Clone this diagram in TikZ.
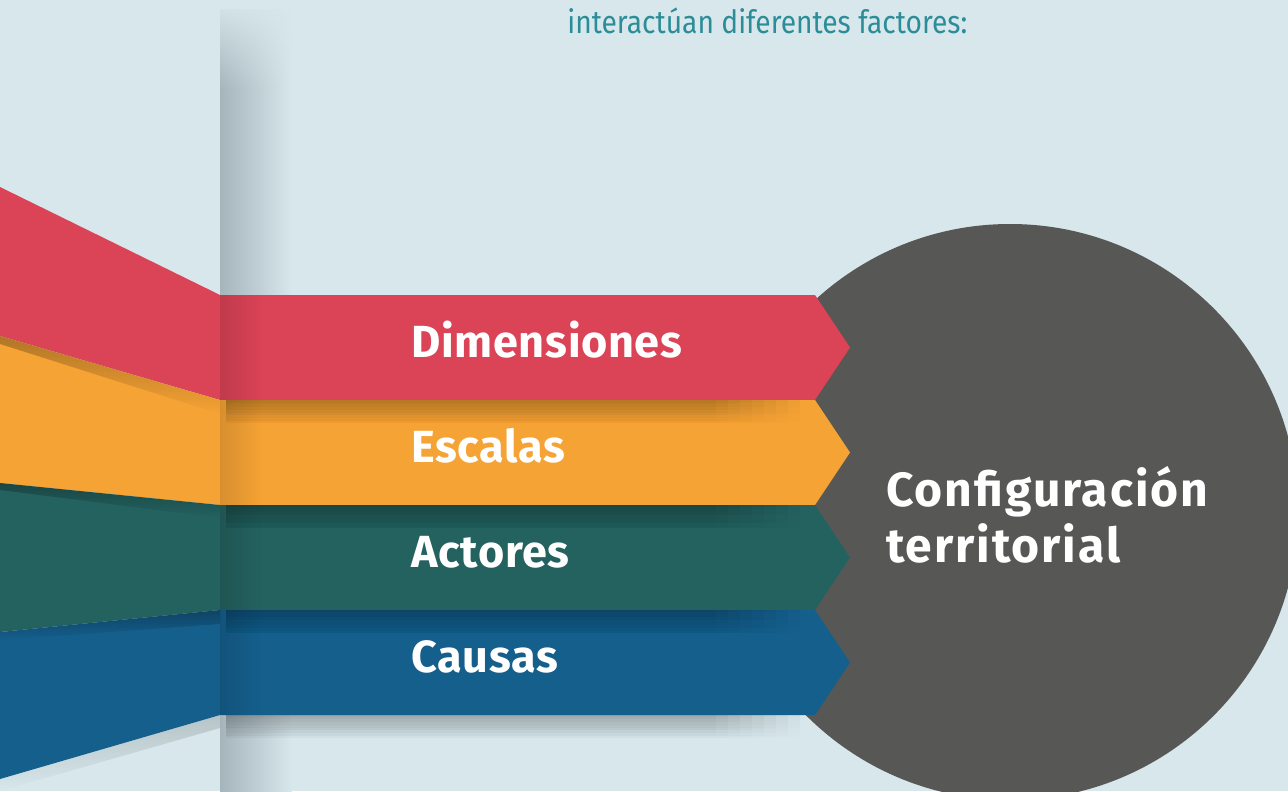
\documentclass[tikz,border=0pt]{standalone}
\usepackage{fontspec}
\setmainfont{Fira Sans}
\usepackage{tikz}
\usetikzlibrary{positioning,fadings,calc}
\definecolor{terr@bg}{RGB}{215,231,235}
\definecolor{terr@shelf}{RGB}{166,180,188}
\definecolor{terr@red}{RGB}{219,67,87}
\definecolor{terr@orange}{RGB}{246,163,53}
\definecolor{terr@teal}{RGB}{36,98,96}
\definecolor{terr@blue}{RGB}{21,95,141}
\definecolor{terr@dark}{RGB}{87,87,86}
\definecolor{terr@title}{RGB}{43,141,151}
\tikzset{
  terr/.style={x=0.5pt, y=-0.5pt},
  blabel/.style={                  % label on a ribbon
    text=white, inner sep=0pt, anchor=base west,
    font=\fontsize{22.5}{27}\selectfont\bfseries\addfontfeature{LetterSpace=1.5}
  },
  ctext/.style={                   % text in the big circle
    text=white, inner sep=0pt, anchor=west, align=left,
    font=\fontsize{24}{28}\selectfont\bfseries\addfontfeature{LetterSpace=4}
  },
  introtxt/.style={
    text=terr@title, inner sep=0pt, anchor=base west,
    font=\fontsize{16}{18}\selectfont
  },
  bigdot/.style={circle, fill=terr@dark, inner sep=0pt, minimum size=288pt},
  dropshadow/.style={fill=black, path fading=south, fill opacity=0.28},
  softshadow/.style={fill=black, path fading=south, fill opacity=0.035}
}

\begin{document}
\begin{tikzpicture}[terr]
\useasboundingbox (0,0) rectangle (1288,791);
\clip (0,0) rectangle (1288,791);
\fill[terr@bg] (0,0) rectangle (1288,791);

% Fold of the page
\shade[left color=terr@shelf, right color=terr@bg] (220,10) rectangle (292,791);
\fill[terr@bg, path fading=south] (214,0) rectangle (296,90);

% Intro text
\node[introtxt] (intro) at (567,34) {\scalebox{0.88}[1]{interactúan diferentes factores:}};

% Big circle
\node[bigdot] (terrcirc) at (1010,512) {};

% Ribbons
\foreach \col/\lt/\lb/\k in {terr@red/187/336/0, terr@orange/336/483/1,
                             terr@teal/483/632/2, terr@blue/632/779/3} {
  \pgfmathsetmacro\yt{295+105*\k}
  \pgfmathsetmacro\yb{400+105*\k}
  \pgfmathsetmacro\ym{347.5+105*\k}
  \fill[\col] (0,\lt) -- (220,\yt) -- (220,\yb) -- (0,\lb) -- cycle;
  \fill[\col] (220,\yt) -- (815,\yt) -- (850,\ym) -- (815,\yb) -- (220,\yb) -- cycle;
}

% Shadows under the ribbons (stacked, so they thin out to the right)
\foreach \y in {400,505,610,715} {
  \foreach \i in {0,...,7} {
    \fill[softshadow] (226,\y) rectangle (800-12*\i,\y+24);
  }
}
\fill[dropshadow] (0,336) -- (220,400) -- (220,414) -- (0,344) -- cycle;
\fill[dropshadow] (0,483) -- (220,505) -- (220,518) -- (0,490) -- cycle;
\fill[dropshadow] (0,632) -- (220,610) -- (220,624) -- (0,640) -- cycle;
\fill[dropshadow, fill opacity=0.15] (0,779) -- (220,715) -- (220,728) -- (0,791) -- cycle;
% darker edge at the fold
\fill[black, fill opacity=0.12, path fading=east] (220,295) rectangle (262,715);

% Labels
\foreach \txt/\k in {Dimensiones/0, Escalas/1, Actores/2, Causas/3} {
  \node[blabel] (lab\k) at (411,357+105*\k) {\txt};
}
\node[ctext] (conf) at (886,515) {Configuración\\territorial};
\end{tikzpicture}
\end{document}
